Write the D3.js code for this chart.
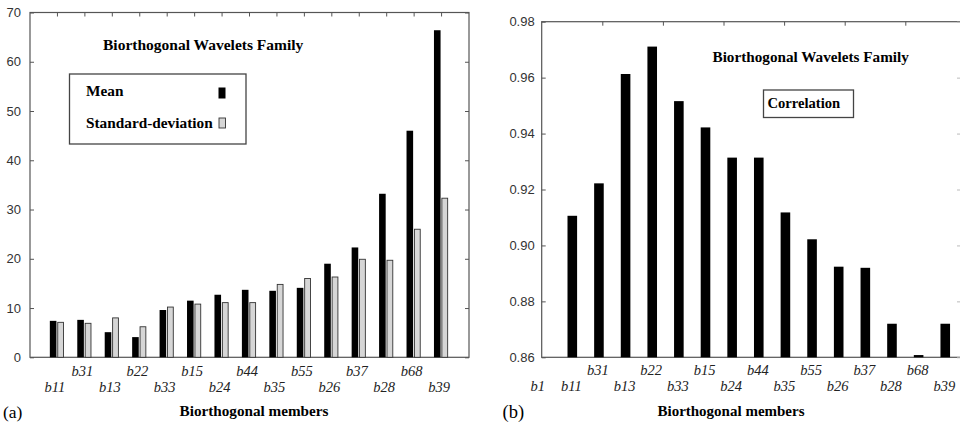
<!DOCTYPE html>
<html>
<head>
<meta charset="utf-8">
<script src="https://cdn.jsdelivr.net/npm/d3@7"></script>
<style>
  html, body { margin: 0; padding: 0; background: #fff; }
  svg { display: block; }
</style>
</head>
<body>
<svg id="chart" width="960" height="424"></svg>
<script>
// ---------- DATA ----------
const leftCategories = ["b11","b31","b13","b22","b33","b15","b24","b44","b35","b55","b26","b37","b28","b68","b39"];
const meanValues = [7.4, 7.6, 5.1, 4.1, 9.6, 11.5, 12.7, 13.7, 13.5, 14.1, 19.0, 22.3, 33.2, 46.0, 66.4];
const stdValues  = [7.1, 6.9, 8.0, 6.2, 10.2, 10.8, 11.1, 11.1, 14.8, 16.0, 16.3, 19.9, 19.7, 26.0, 32.3];
const leftYTicks = [0, 10, 20, 30, 40, 50, 60, 70];

const rightCategories = ["b1","b11","b31","b13","b22","b33","b15","b24","b44","b35","b55","b26","b37","b28","b68","b39"];
const correlationValues = [null, 0.9106, 0.9222, 0.9613, 0.9711, 0.9516, 0.9422, 0.9314, 0.9314, 0.9118, 0.9022, 0.8924, 0.8920, 0.8720, 0.8608, 0.8720];
const rightYTicks = [0.86, 0.88, 0.90, 0.92, 0.94, 0.96, 0.98];
const rightTopTicks = [0, 2, 4, 6, 8, 10, 12, 14];

const titleText = "Biorthogonal Wavelets Family";
const xAxisTitle = "Biorthogonal members";

// ---------- SETUP ----------
const svg = d3.select("#chart");
const serif = "'Liberation Serif','Times New Roman',serif";
const sans = "'Liberation Sans',Arial,sans-serif";
const frameColor = "#555";

// ================= LEFT CHART =================
const L = { left: 30, right: 469, top: 12.5, bottom: 357.3 };
const xL = d3.scaleLinear().domain([0, 16]).range([29.5, 468.5]);
const yL = d3.scaleLinear().domain([0, 70]).range([L.bottom, L.top]);
const gL = svg.append("g");

// frame
gL.append("rect").attr("x", L.left).attr("y", L.top)
  .attr("width", L.right - L.left).attr("height", L.bottom - L.top)
  .attr("fill", "none").attr("stroke", frameColor).attr("stroke-width", 1.2);

// y axis left (inward ticks)
const yAxisL = gL.append("g").attr("transform", `translate(${L.left},0)`)
  .call(d3.axisLeft(yL).tickValues(leftYTicks).tickSize(-4).tickPadding(9).tickFormat(d3.format("d")));
yAxisL.select(".domain").remove();
yAxisL.selectAll("line").attr("stroke", frameColor);
yAxisL.selectAll("text").attr("font-family", sans).attr("font-size", 13).attr("fill", "#333");

// y axis right ticks
const yAxisLR = gL.append("g").attr("transform", `translate(${L.right},0)`)
  .call(d3.axisRight(yL).tickValues(leftYTicks).tickSize(-4).tickFormat(""));
yAxisLR.select(".domain").remove();
yAxisLR.selectAll("line").attr("stroke", frameColor);

// top ticks
const topL = gL.append("g").attr("transform", `translate(0,${L.top})`)
  .call(d3.axisTop(xL).tickValues(d3.range(1, leftCategories.length + 1)).tickSize(-4).tickFormat(""));
topL.select(".domain").remove();
topL.selectAll("line").attr("stroke", frameColor);

// bars
const barW = 6.6;
gL.selectAll("rect.mean").data(meanValues).join("rect").attr("class", "mean")
  .attr("x", (d, i) => xL(i + 1) - 0.5 - barW)
  .attr("y", d => yL(d)).attr("width", barW).attr("height", d => yL(0) - yL(d))
  .attr("fill", "#000");
gL.selectAll("rect.std").data(stdValues).join("rect").attr("class", "std")
  .attr("x", (d, i) => xL(i + 1) + 0.8)
  .attr("y", d => yL(d)).attr("width", barW - 0.8).attr("height", d => yL(0) - yL(d))
  .attr("fill", "#d6d6d6").attr("stroke", "#333").attr("stroke-width", 0.9);

// x labels (staggered)
gL.selectAll("text.xl").data(leftCategories).join("text").attr("class", "xl")
  .attr("x", (d, i) => xL(i + 1) - 2)
  .attr("y", (d, i) => (i % 2 === 0) ? 391.5 : 375.5)
  .attr("text-anchor", "middle").attr("font-family", serif).attr("font-style", "italic")
  .attr("font-size", 14.5).attr("fill", "#222").text(d => d);

// title
gL.append("text").attr("x", 103).attr("y", 50).attr("font-family", serif)
  .attr("font-weight", "bold").attr("font-size", 15.5).text(titleText);

// legend
gL.append("rect").attr("x", 69.5).attr("y", 74).attr("width", 176.5).attr("height", 70)
  .attr("fill", "#fff").attr("stroke", "#444").attr("stroke-width", 1.3);
gL.append("text").attr("x", 86).attr("y", 96).attr("font-family", serif)
  .attr("font-weight", "bold").attr("font-size", 15.3).text("Mean");
gL.append("text").attr("x", 86).attr("y", 127.5).attr("font-family", serif)
  .attr("font-weight", "bold").attr("font-size", 15.3).text("Standard-deviation");
gL.append("rect").attr("x", 218.5).attr("y", 87.5).attr("width", 7).attr("height", 11).attr("fill", "#000");
gL.append("rect").attr("x", 219).attr("y", 118).attr("width", 6.5).attr("height", 10)
  .attr("fill", "#d6d6d6").attr("stroke", "#333").attr("stroke-width", 0.9);

// axis title & panel label
gL.append("text").attr("x", 254).attr("y", 416).attr("text-anchor", "middle")
  .attr("font-family", serif).attr("font-weight", "bold").attr("font-size", 15.2).text(xAxisTitle);
gL.append("text").attr("x", 3).attr("y", 417.5).attr("font-family", serif)
  .attr("font-size", 17.5).text("(a)");

// ================= RIGHT CHART =================
const R = { left: 541.7, right: 962, top: 21.7, bottom: 357.3 };
const xR = d3.scaleLinear().domain([0, 16]).range([545.66, 545.66 + 16 * 26.64]);
const xTop = d3.scaleLinear().domain([0, 14]).range([R.left, R.left + 14 * 30.3]);
const yR = d3.scaleLinear().domain([0.86, 0.98]).range([R.bottom, R.top]);
const gR = svg.append("g");

gR.append("rect").attr("x", R.left).attr("y", R.top)
  .attr("width", R.right - R.left).attr("height", R.bottom - R.top)
  .attr("fill", "none").attr("stroke", frameColor).attr("stroke-width", 1.2);

const yAxisR = gR.append("g").attr("transform", `translate(${R.left},0)`)
  .call(d3.axisLeft(yR).tickValues(rightYTicks).tickSize(-4).tickPadding(7).tickFormat(d3.format(".2f")));
yAxisR.select(".domain").remove();
yAxisR.selectAll("line").attr("stroke", frameColor);
yAxisR.selectAll("text").attr("font-family", sans).attr("font-size", 13).attr("fill", "#333");

const yAxisRR = gR.append("g").attr("transform", `translate(${R.right},0)`)
  .call(d3.axisRight(yR).tickValues(rightYTicks).tickSize(-5).tickFormat(""));
yAxisRR.select(".domain").remove();
yAxisRR.selectAll("line").attr("stroke", "#bbb");

const topR = gR.append("g").attr("transform", `translate(0,${R.top})`)
  .call(d3.axisTop(xTop).tickValues(rightTopTicks.slice(1)).tickSize(-4).tickFormat(""));
topR.select(".domain").remove();
topR.selectAll("line").attr("stroke", frameColor);

const barWR = 9.6;
const corrData = correlationValues.map((v, i) => ({ v, i })).filter(d => d.v !== null);
gR.selectAll("rect.corr").data(corrData).join("rect").attr("class", "corr")
  .attr("x", d => xR(d.i) - barWR / 2)
  .attr("y", d => yR(d.v)).attr("width", barWR).attr("height", d => yR(0.86) - yR(d.v))
  .attr("fill", "#000");

gR.selectAll("text.xr").data(rightCategories).join("text").attr("class", "xr")
  .attr("x", (d, i) => xR(i) - (i === 0 ? 8 : 1))
  .attr("y", (d, i) => (i === 0 || i % 2 === 1) ? 390.5 : 374.5)
  .attr("text-anchor", "middle").attr("font-family", serif).attr("font-style", "italic")
  .attr("font-size", 14.5).attr("fill", "#222").text(d => d);

gR.append("text").attr("x", 712.5).attr("y", 61.5).attr("font-family", serif)
  .attr("font-weight", "bold").attr("font-size", 15.2).text(titleText);

gR.append("rect").attr("x", 763.5).attr("y", 90).attr("width", 90).attr("height", 27.5)
  .attr("fill", "#fff").attr("stroke", "#444").attr("stroke-width", 1.3);
gR.append("text").attr("x", 767.5).attr("y", 107.5).attr("font-family", serif)
  .attr("font-weight", "bold").attr("font-size", 14.6).text("Correlation");

gR.append("text").attr("x", 731).attr("y", 416).attr("text-anchor", "middle")
  .attr("font-family", serif).attr("font-weight", "bold").attr("font-size", 15).text(xAxisTitle);
gR.append("text").attr("x", 502.5).attr("y", 417.5).attr("font-family", serif)
  .attr("font-size", 18.5).text("(b)");
</script>
</body>
</html>
